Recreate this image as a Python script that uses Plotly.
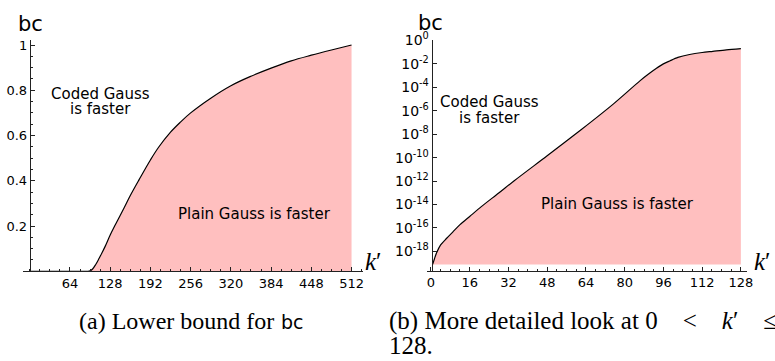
import plotly.graph_objects as go

# ---- data ----
left_k = [0, 64, 92, 96, 100, 105, 110, 115, 120, 128, 137, 150, 160, 174, 192, 205,
          224, 240, 256, 288, 320, 352, 384, 416, 448, 480, 512]
left_bc = [0, 0, 0, 0.002, 0.01, 0.03, 0.055, 0.082, 0.11, 0.16, 0.21, 0.28, 0.335, 0.405,
           0.492, 0.548, 0.615, 0.66, 0.70, 0.765, 0.82, 0.862, 0.898, 0.93, 0.955, 0.978, 1.0]

right_k = [0.7, 1.5, 2.3, 4, 6.4, 9, 12, 16, 20.8, 28, 34.4, 48, 62, 75.4, 86.3, 90, 93,
           96, 98.6, 102, 106.8, 112, 116.4, 122, 128]
right_log_bc = [-19.11, -18.6, -18.14, -17.45, -16.9, -16.35, -15.72, -15.02, -14.18, -13.02,
                -11.97, -9.84, -7.62, -5.41, -3.45, -2.85, -2.4, -2.0, -1.75, -1.45, -1.2,
                -1.03, -0.93, -0.8, -0.70]
right_bc = [10 ** v for v in right_log_bc]
right_floor = 10 ** -19.11

left_xticks = [64, 128, 192, 256, 320, 384, 448, 512]
left_yticks = [0.2, 0.4, 0.6, 0.8, 1]
left_yticktext = ["0.2", "0.4", "0.6", "0.8", "1"]
right_xticks = [0, 16, 32, 48, 64, 80, 96, 112, 128]
right_yexp = [0, -2, -4, -6, -8, -10, -12, -14, -16, -18]
right_yticks = [10 ** e for e in right_yexp]
right_yticktext = ["10<sup>%d</sup>" % e for e in right_yexp]

FILL = "rgb(255,191,191)"
AX = "#222222"
W, H = 775, 361

fig = go.Figure()

# left panel
fig.add_trace(go.Scatter(x=left_k, y=left_bc, mode="lines",
                         line=dict(color="black", width=1.2, shape="spline", smoothing=1.0),
                         fill="tozeroy", fillcolor=FILL, xaxis="x", yaxis="y", hoverinfo="skip"))
# right panel
fig.add_trace(go.Scatter(x=[right_k[0], right_k[-1]], y=[right_floor, right_floor], mode="lines",
                         line=dict(width=0, color=FILL), xaxis="x2", yaxis="y2", hoverinfo="skip"))
fig.add_trace(go.Scatter(x=right_k, y=right_bc, mode="lines",
                         line=dict(color="black", width=1.2, shape="spline", smoothing=0.8),
                         fill="tonexty", fillcolor=FILL, xaxis="x2", yaxis="y2", hoverinfo="skip"))

tickfont = dict(family="DejaVu Sans", size=13, color="black")

# pixel geometry
lx0, lx1 = 23, 365.7
ly0, ly1 = 268.7, 31.35
rx0, rx1 = 430, 753
ry0, ry1 = 268.3, 31.3

fig.update_layout(
    width=W, height=H, margin=dict(l=0, r=0, t=0, b=0),
    paper_bgcolor="white", plot_bgcolor="white", showlegend=False,
    xaxis=dict(domain=[lx0 / W, lx1 / W], range=[-11, 530], anchor="y",
               tickvals=left_xticks, ticks="inside", ticklen=4, tickcolor=AX,
               showline=True, linecolor=AX, linewidth=1, showgrid=False, zeroline=False,
               tickfont=tickfont,
               minor=dict(dtick=16, tick0=0, ticks="inside", ticklen=2, tickcolor=AX)),
    yaxis=dict(domain=[(H - ly0) / H, (H - ly1) / H], range=[0, 1.02], anchor="free",
               position=30 / W, tickvals=left_yticks, ticktext=left_yticktext,
               ticks="inside", ticklen=4, tickcolor=AX,
               showline=True, linecolor=AX, linewidth=1, showgrid=False, zeroline=False,
               tickfont=tickfont,
               minor=dict(dtick=0.05, tick0=0, ticks="inside", ticklen=2, tickcolor=AX)),
    xaxis2=dict(domain=[rx0 / W, rx1 / W], range=[-1.76, 130.6], anchor="y2",
                tickvals=right_xticks, ticks="inside", ticklen=4, tickcolor=AX,
                showline=True, linecolor=AX, linewidth=1, showgrid=False, zeroline=False,
                tickfont=tickfont,
                minor=dict(dtick=4, tick0=0, ticks="inside", ticklen=2, tickcolor=AX)),
    yaxis2=dict(domain=[(H - ry0) / H, (H - ry1) / H], type="log", range=[-19.66, 0.0],
                anchor="free", position=435 / W,
                tickvals=right_yticks, ticktext=right_yticktext,
                ticks="inside", ticklen=4, tickcolor=AX,
                showline=True, linecolor=AX, linewidth=1, showgrid=False, zeroline=False,
                tickfont=dict(family="DejaVu Sans", size=14, color="black")),
)

def ann(x, y, text, size=15, family="DejaVu Sans", xanchor="center", yanchor="middle"):
    fig.add_annotation(x=x / W, y=(H - y) / H, xref="paper", yref="paper", text=text,
                       showarrow=False, xanchor=xanchor, yanchor=yanchor,
                       font=dict(family=family, size=size, color="black"))

# axis titles
ann(31, 14, "bc", size=21)
ann(434, 13, "bc", size=21)
ann(366, 259, "<i>k</i>′", size=25, family="Liberation Serif", xanchor="left")
ann(758, 259, "<i>k</i>′", size=25, family="Liberation Serif", xanchor="left")

# region labels
ann(101, 86, "Coded Gauss")
ann(101, 102, "is faster")
ann(256, 210, "Plain Gauss is faster")
ann(493, 95, "Coded Gauss")
ann(493, 111, "is faster")
ann(622, 200, "Plain Gauss is faster")

# captions
ann(78, 320, "(a) Lower bound for", size=24, family="Liberation Serif", xanchor="left")
ann(281, 321, "bc", size=19, family="DejaVu Sans", xanchor="left")
ann(390, 320, "(b) More detailed look at 0 &nbsp;&nbsp;&nbsp;&lt;&nbsp;&nbsp;&nbsp; <i>k</i>′ &nbsp;&nbsp;&nbsp;≤",
    size=25, family="Liberation Serif", xanchor="left")
ann(390, 345, "128.", size=25, family="Liberation Serif", xanchor="left")

fig.write_html("out.html")
